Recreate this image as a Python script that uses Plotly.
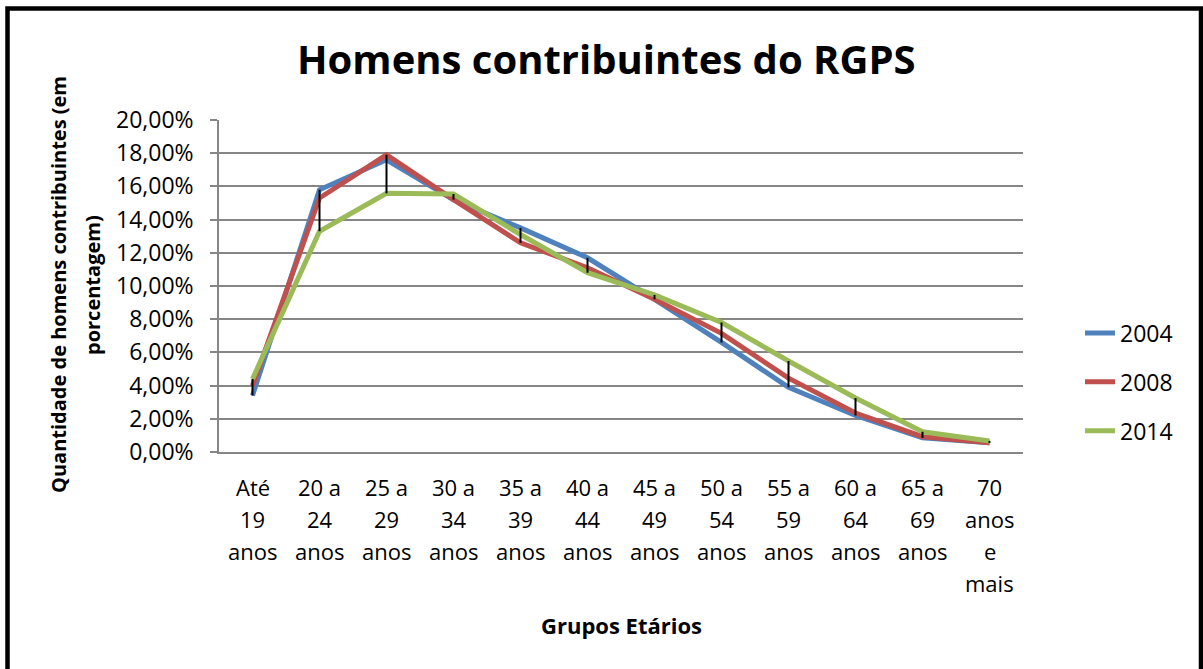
import plotly.graph_objects as go

# ---- data ----
label_lines = [
    ["Até", "19", "anos"],
    ["20 a", "24", "anos"],
    ["25 a", "29", "anos"],
    ["30 a", "34", "anos"],
    ["35 a", "39", "anos"],
    ["40 a", "44", "anos"],
    ["45 a", "49", "anos"],
    ["50 a", "54", "anos"],
    ["55 a", "59", "anos"],
    ["60 a", "64", "anos"],
    ["65 a", "69", "anos"],
    ["70", "anos", "e", "mais"],
]
categories = [" ".join(l) for l in label_lines]

series_names = ["2004", "2008", "2014"]
v2004 = [0.034, 0.158, 0.176, 0.152, 0.135, 0.117, 0.092, 0.066, 0.039, 0.022, 0.0085, 0.0055]
v2008 = [0.040, 0.153, 0.179, 0.152, 0.126, 0.111, 0.092, 0.0715, 0.0445, 0.0235, 0.0092, 0.0056]
v2014 = [0.044, 0.133, 0.1558, 0.1554, 0.131, 0.108, 0.0946, 0.078, 0.0548, 0.0325, 0.0122, 0.0066]
series_values = [v2004, v2008, v2014]
colors = ["#4F81BD", "#C0504D", "#9BBB59"]

y_ticks = [i / 100 for i in range(0, 21, 2)]

FONT = "Open Sans"
W, H = 1203, 669
L, R, T, B = 219, 180, 120, 217
PW, PH = W - L - R, H - T - B


def px_x(p):
    return (p - L) / PW


def px_y(p):
    return (H - B - p) / PH


fig = go.Figure()
for name, vals, col in zip(series_names, series_values, colors):
    fig.add_trace(go.Scatter(
        x=categories, y=vals, mode="lines", name=name,
        line=dict(color=col, width=5), legendgroup=name,
    ))

# high-low lines
hx, hy = [], []
for i, c in enumerate(categories):
    vals = [s[i] for s in series_values]
    hx += [c, c, None]
    hy += [max(vals), min(vals), None]
fig.add_trace(go.Scatter(x=hx, y=hy, mode="lines", showlegend=False,
                         line=dict(color="black", width=2), hoverinfo="skip"))

annotations = []
# title
annotations.append(dict(text="<b>Homens contribuintes do RGPS</b>", x=px_x(606), y=px_y(59),
                        xref="paper", yref="paper", showarrow=False, xanchor="center", yanchor="middle",
                        font=dict(family=FONT, size=40, color="black")))
# y axis title (two lines)
annotations.append(dict(text="<b>Quantidade de homens contribuintes (em</b>", x=px_x(58), y=px_y(285),
                        xref="paper", yref="paper", showarrow=False, textangle=-90,
                        xanchor="center", yanchor="middle",
                        font=dict(family=FONT, size=20, color="black")))
annotations.append(dict(text="<b>porcentagem)</b>", x=px_x(92), y=px_y(285),
                        xref="paper", yref="paper", showarrow=False, textangle=-90,
                        xanchor="center", yanchor="middle",
                        font=dict(family=FONT, size=20, color="black")))
# x axis title
annotations.append(dict(text="<b>Grupos Etários</b>", x=px_x(621), y=px_y(625),
                        xref="paper", yref="paper", showarrow=False, xanchor="center", yanchor="middle",
                        font=dict(family=FONT, size=22, color="black")))
# category labels, line by line
for c, lines in zip(categories, label_lines):
    for j, t in enumerate(lines):
        annotations.append(dict(text=t, x=c, y=px_y(487 + 32 * j), xref="x", yref="paper",
                                showarrow=False, xanchor="center", yanchor="middle",
                                font=dict(family=FONT, size=22, color="black")))

border = dict(type="path", xref="paper", yref="paper",
              path=f"M {px_x(7.5)} {px_y(690)} L {px_x(7.5)} {px_y(8.5)} L {px_x(1201)} {px_y(8.5)} L {px_x(1201)} {px_y(690)}",
              line=dict(color="black", width=4.5))

fig.update_layout(
    width=W, height=H,
    margin=dict(l=L, r=R, t=T, b=B, autoexpand=False),
    paper_bgcolor="white", plot_bgcolor="white",
    separators=",.",
    font=dict(family=FONT, size=22, color="black"),
    showlegend=True,
    legend=dict(x=px_x(1080), y=px_y(382), xanchor="left", yanchor="middle",
                font=dict(family=FONT, size=23, color="black"),
                tracegroupgap=16, bgcolor="rgba(0,0,0,0)"),
    annotations=annotations,
    shapes=[border],
    xaxis=dict(showticklabels=False, showgrid=False, showline=True, linecolor="#868686",
               linewidth=2, ticks="", zeroline=False, range=[-0.5, len(categories) - 0.5]),
    yaxis=dict(range=[0, 0.2], tickvals=y_ticks, tickformat=".2%", showgrid=True,
               gridcolor="#868686", gridwidth=1.5, showline=True, linecolor="#868686",
               linewidth=1.5, ticks="outside", ticklen=7, tickcolor="#868686", tickwidth=1.5,
               zeroline=False, ticklabelstandoff=12,
               tickfont=dict(family=FONT, size=23, color="black")),
)

fig.write_html("out.html", config={"displayModeBar": False},
               post_script="document.body.style.margin='0px';")
